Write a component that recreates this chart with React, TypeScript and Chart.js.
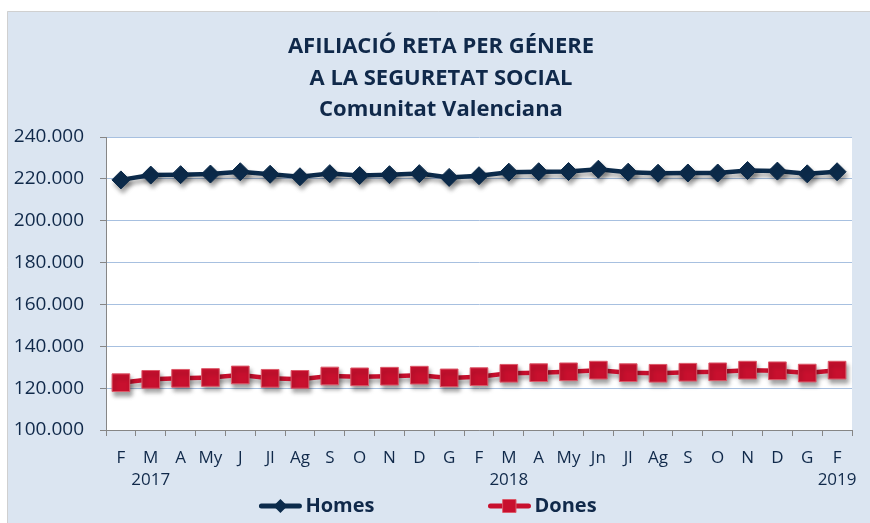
import React, { useEffect, useRef } from "react";
import { Chart, registerables } from "chart.js";

Chart.register(...registerables);

const months = ["F", "M", "A", "My", "J", "Jl", "Ag", "S", "O", "N", "D", "G", "F", "M", "A", "My", "Jn", "Jl", "Ag", "S", "O", "N", "D", "G", "F"];
const years = ["", "2017", "", "", "", "", "", "", "", "", "", "", "", "2018", "", "", "", "", "", "", "", "", "", "", "2019"];
const homes = [219500, 221800, 222000, 222300, 223400, 222200, 221000, 222500, 221600, 222000, 222500, 220700, 221500, 223200, 223400, 223500, 224600, 223200, 222700, 222800, 222800, 224000, 223700, 222400, 223400];
const dones = [122600, 124200, 124700, 125100, 126300, 124700, 124200, 125800, 125400, 125700, 126200, 124900, 125500, 127100, 127400, 127800, 128600, 127400, 127100, 127600, 127800, 128600, 128300, 127200, 128600];
const titleLines = ["AFILIACIÓ RETA PER GÉNERE", "A LA SEGURETAT SOCIAL", "Comunitat Valenciana"];
const seriesNames = ["Homes", "Dones"];

const TEXT = "#10294a";
const NAVY = "#0c2b4b";
const RED = "#c8102e";
const FONT = "'Open Sans', sans-serif";

function fmt(v: number) {
  return String(Math.round(v)).replace(/\B(?=(\d{3})+(?!\d))/g, ".");
}

const decorPlugin = {
  id: "decor",
  beforeDraw(chart: any) {
    const { ctx, width, height, chartArea } = chart;
    ctx.save();
    ctx.fillStyle = "#ffffff";
    ctx.fillRect(0, 0, width, height);
    ctx.fillStyle = "#dbe5f1";
    ctx.fillRect(7, 11, width - 7, height - 11);
    ctx.strokeStyle = "#d0d0d0";
    ctx.lineWidth = 1;
    ctx.beginPath();
    ctx.moveTo(7.5, height);
    ctx.lineTo(7.5, 11.5);
    ctx.lineTo(width, 11.5);
    ctx.stroke();
    ctx.fillStyle = "#ffffff";
    ctx.fillRect(chartArea.left, chartArea.top, chartArea.right - chartArea.left, chartArea.bottom - chartArea.top);
    ctx.restore();
  },
  afterDraw(chart: any) {
    const { ctx } = chart;
    ctx.save();
    // title
    ctx.fillStyle = TEXT;
    ctx.font = "bold 22px " + FONT;
    ctx.textAlign = "center";
    ctx.textBaseline = "middle";
    const ys = [47, 79, 110];
    titleLines.forEach((t, i) => ctx.fillText(t, 441, ys[i]));
    // legend
    ctx.font = "bold 20px " + FONT;
    ctx.textAlign = "left";
    const symW = 42;
    const gapText = 4;
    const gapItems = 114;
    const ds = chart.data.datasets;
    const widths = ds.map((d: any) => symW + gapText + ctx.measureText(d.label).width);
    const total = widths.reduce((a: number, b: number) => a + b, 0) + gapItems * (ds.length - 1);
    let x = 428 - total / 2;
    const y = 506;
    ds.forEach((d: any, i: number) => {
      ctx.strokeStyle = d.borderColor;
      ctx.lineWidth = 5;
      ctx.lineCap = "round";
      ctx.beginPath();
      ctx.moveTo(x + 2, y);
      ctx.lineTo(x + symW - 2, y);
      ctx.stroke();
      const cx = x + symW / 2;
      ctx.fillStyle = d.pointBackgroundColor;
      ctx.beginPath();
      if (d.pointStyle === "rectRot") {
        ctx.moveTo(cx - 7, y);
        ctx.lineTo(cx, y - 7);
        ctx.lineTo(cx + 7, y);
        ctx.lineTo(cx, y + 7);
        ctx.closePath();
        ctx.fill();
      } else {
        ctx.rect(cx - 6.5, y - 6.5, 13, 13);
        ctx.fill();
        ctx.strokeStyle = d.pointBorderColor;
        ctx.lineWidth = 1;
        ctx.stroke();
      }
      ctx.fillStyle = TEXT;
      ctx.textBaseline = "middle";
      ctx.fillText(d.label, x + symW + gapText, y);
      x += widths[i] + gapItems;
    });
    ctx.restore();
  },
};

const shadowPlugin = {
  id: "lineShadow",
  beforeDatasetDraw(chart: any) {
    const ctx = chart.ctx;
    ctx.save();
    ctx.shadowColor = "rgba(0,0,0,0.35)";
    ctx.shadowBlur = 4;
    ctx.shadowOffsetX = 2;
    ctx.shadowOffsetY = 4;
  },
  afterDatasetDraw(chart: any) {
    chart.ctx.restore();
  },
};

export default function App() {
  const ref = useRef<HTMLCanvasElement>(null);
  useEffect(() => {
    document.body.style.margin = "0";
    const labels = months.map((m, i) => (years[i] ? [m, years[i]] : m));
    const chart = new Chart(ref.current as HTMLCanvasElement, {
      type: "line",
      data: {
        labels,
        datasets: [
          {
            label: seriesNames[0],
            data: homes,
            borderColor: NAVY,
            backgroundColor: NAVY,
            borderWidth: 4.5,
            pointStyle: "rectRot",
            pointRadius: 9,
            pointBackgroundColor: NAVY,
            pointBorderColor: NAVY,
            pointBorderWidth: 1,
            tension: 0,
          },
          {
            label: seriesNames[1],
            data: dones,
            borderColor: RED,
            backgroundColor: RED,
            borderWidth: 4.5,
            pointStyle: "rect",
            pointRadius: 12.5,
            pointBackgroundColor: RED,
            pointBorderColor: "#dc5a6a",
            pointBorderWidth: 1,
            tension: 0,
          },
        ],
      },
      options: {
        responsive: false,
        animation: false,
        layout: { padding: { left: 0, right: 18, top: 137, bottom: 34 } },
        plugins: {
          legend: { display: false },
          title: { display: false },
          tooltip: { enabled: false },
        },
        scales: {
          x: {
            offset: true,
            grid: { offset: true, drawOnChartArea: false, tickLength: 6, color: "#868686" },
            border: { color: "#868686", width: 1 },
            ticks: {
              color: TEXT,
              font: { family: FONT, size: 17, lineHeight: 1.3 },
              padding: 11,
              autoSkip: false,
              maxRotation: 0,
            },
            afterFit(scale: any) {
              scale.height = 59;
            },
          },
          y: {
            min: 100000,
            max: 240000,
            grid: { color: "#a7c0e0", tickColor: "#868686", tickLength: 6 },
            border: { color: "#868686", width: 1 },
            ticks: {
              stepSize: 20000,
              color: TEXT,
              font: { family: FONT, size: 19 },
              padding: 16,
              callback: (v: any) => fmt(Number(v)),
            },
            afterFit(scale: any) {
              scale.width = 106;
            },
          },
        },
      },
      plugins: [decorPlugin, shadowPlugin],
    });
    return () => chart.destroy();
  }, []);
  return <canvas ref={ref} width={870} height={523} style={{ display: "block" }} />;
}
